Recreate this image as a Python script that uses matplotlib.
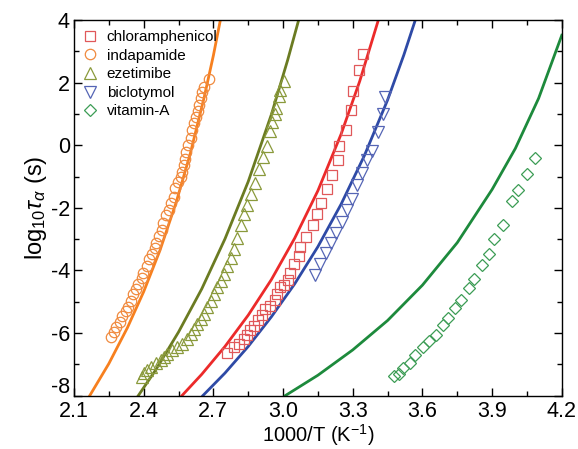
import matplotlib
matplotlib.use('Agg')
import matplotlib.pyplot as plt
from matplotlib.ticker import MultipleLocator

plt.rcParams['font.family'] = ['Liberation Sans', 'DejaVu Sans']
plt.rcParams['mathtext.fontset'] = 'custom'
plt.rcParams['mathtext.rm'] = 'Liberation Sans'
plt.rcParams['mathtext.it'] = 'Liberation Sans:italic'
plt.rcParams['axes.unicode_minus'] = False

# --- measured points -------------------------------------------------------
chl_x = [2.759, 2.788, 2.809, 2.831, 2.845, 2.856, 2.874, 2.893, 2.910, 2.924, 2.945,
         2.967, 2.974, 2.988, 3.003, 3.020, 3.032, 3.049, 3.068, 3.075, 3.097, 3.128,
         3.144, 3.163, 3.189, 3.211, 3.235, 3.241, 3.271, 3.293, 3.303, 3.327, 3.344]
chl_y = [-6.65, -6.44, -6.36, -6.18, -6.07, -5.91, -5.76, -5.60, -5.44, -5.23, -5.15,
         -4.95, -4.76, -4.54, -4.45, -4.29, -4.07, -3.78, -3.54, -3.24, -2.92, -2.56,
         -2.21, -1.83, -1.40, -0.94, -0.48, -0.03, 0.50, 1.13, 1.74, 2.40, 2.93]

ind_x = [2.261, 2.272, 2.282, 2.297, 2.308, 2.322, 2.332, 2.344, 2.354, 2.368, 2.377,
         2.391, 2.398, 2.413, 2.425, 2.437, 2.447, 2.454, 2.465, 2.477, 2.484, 2.497,
         2.508, 2.519, 2.530, 2.537, 2.547, 2.559, 2.566, 2.573, 2.578, 2.584, 2.592,
         2.603, 2.610, 2.618, 2.625, 2.633, 2.640, 2.648, 2.653, 2.660, 2.683]
ind_y = [-6.13, -5.97, -5.81, -5.65, -5.47, -5.30, -5.16, -4.97, -4.76, -4.60, -4.44,
         -4.23, -4.07, -3.86, -3.65, -3.47, -3.28, -3.12, -2.91, -2.70, -2.49, -2.22,
         -2.07, -1.85, -1.64, -1.38, -1.17, -1.01, -0.85, -0.64, -0.43, -0.22, 0.02,
         0.25, 0.50, 0.72, 0.92, 1.10, 1.28, 1.50, 1.70, 1.88, 2.13]

eze_x = [2.394, 2.401, 2.416, 2.430, 2.451, 2.473, 2.487, 2.501, 2.523, 2.544, 2.566,
         2.587, 2.602, 2.616, 2.630, 2.645, 2.659, 2.673, 2.688, 2.702, 2.716, 2.731,
         2.745, 2.759, 2.774, 2.788, 2.802, 2.817, 2.831, 2.845, 2.864, 2.878, 2.895,
         2.912, 2.931, 2.945, 2.953, 2.964, 2.970, 2.981, 2.988, 3.003]
eze_y = [-7.42, -7.29, -7.18, -7.08, -6.97, -6.86, -6.76, -6.66, -6.55, -6.44, -6.34,
         -6.18, -6.02, -5.86, -5.71, -5.55, -5.39, -5.18, -4.97, -4.76, -4.54, -4.33,
         -4.12, -3.86, -3.59, -3.33, -2.95, -2.55, -2.20, -1.91, -1.57, -1.19, -0.75,
         -0.38, -0.01, 0.47, 0.73, 0.99, 1.20, 1.57, 1.78, 2.05]

bic_x = [3.136, 3.160, 3.187, 3.206, 3.229, 3.253, 3.276, 3.296, 3.319, 3.340, 3.363,
         3.383, 3.409, 3.431, 3.441]
bic_y = [-4.13, -3.79, -3.43, -3.13, -2.79, -2.44, -2.07, -1.72, -1.26, -0.90, -0.46,
         -0.17, 0.42, 1.01, 1.54]

vit_x = [3.478, 3.497, 3.518, 3.547, 3.566, 3.601, 3.630, 3.659, 3.688, 3.711, 3.740,
         3.768, 3.801, 3.823, 3.857, 3.886, 3.910, 3.947, 3.987, 4.012, 4.048, 4.085]
vit_y = [-7.39, -7.30, -7.12, -6.96, -6.70, -6.46, -6.27, -6.05, -5.73, -5.52, -5.20,
         -4.93, -4.56, -4.27, -3.84, -3.47, -2.98, -2.56, -1.78, -1.42, -0.92, -0.42]

# --- fitted curves ----------------------------------------------------------
chl_fx = [2.565, 2.65, 2.75, 2.85, 2.95, 3.05, 3.15, 3.25, 3.33, 3.41]
chl_fy = [-8.00, -7.32, -6.43, -5.43, -4.29, -2.97, -1.45, 0.36, 2.05, 4.00]
ind_fx = [2.168, 2.25, 2.33, 2.40, 2.47, 2.54, 2.60, 2.66, 2.70, 2.73]
ind_fy = [-8.00, -6.98, -5.83, -4.68, -3.36, -1.82, -0.28, 1.52, 2.87, 4.00]
eze_fx = [2.377, 2.45, 2.55, 2.65, 2.75, 2.85, 2.95, 3.02, 3.067]
eze_fy = [-8.00, -7.20, -5.97, -4.59, -2.99, -1.16, 0.99, 2.73, 4.00]
bic_fx = [2.655, 2.75, 2.85, 2.95, 3.05, 3.15, 3.25, 3.35, 3.45, 3.52, 3.57]
bic_fy = [-8.00, -7.28, -6.43, -5.48, -4.43, -3.24, -1.88, -0.33, 1.45, 2.89, 4.02]
vit_fx = [3.01, 3.15, 3.30, 3.45, 3.60, 3.75, 3.90, 4.00, 4.10, 4.20]
vit_fy = [-8.00, -7.35, -6.54, -5.60, -4.47, -3.11, -1.41, -0.10, 1.50, 3.52]

y_ticks = [-8, -6, -4, -2, 0, 2, 4]

fig = plt.figure(figsize=(5.78, 4.49), dpi=100)
ax = fig.add_axes([0.128, 0.119, 0.844, 0.836])

ax.plot(chl_fx, chl_fy, color='#ec2a2a', lw=2.0)
ax.plot(ind_fx, ind_fy, color='#f7801f', lw=2.0)
ax.plot(eze_fx, eze_fy, color='#6b7b22', lw=2.0)
ax.plot(bic_fx, bic_fy, color='#2e4aa6', lw=2.0)
ax.plot(vit_fx, vit_fy, color='#1d8a3c', lw=2.0)

mk = dict(ls='none', mfc='none', mew=0.9)
ax.plot(chl_x, chl_y, marker='s', ms=7, mec='#e0585a', label='chloramphenicol', **mk)
ax.plot(ind_x, ind_y, marker='o', ms=7.5, mec='#f08a3e', label='indapamide', **mk)
ax.plot(eze_x, eze_y, marker='^', ms=8, mec='#8a9a3c', label='ezetimibe', **mk)
ax.plot(bic_x, bic_y, marker='v', ms=8, mec='#5565b5', label='biclotymol', **mk)
ax.plot(vit_x, vit_y, marker='D', ms=6, mec='#3c9c55', label='vitamin-A', **mk)

ax.set_xlim(2.1, 4.2)
ax.set_ylim(-8, 4)
ax.xaxis.set_major_locator(MultipleLocator(0.3))
ax.xaxis.set_minor_locator(MultipleLocator(0.15))
ax.yaxis.set_minor_locator(MultipleLocator(1))
ax.set_xticklabels([f'{v:.1f}' for v in ax.get_xticks()])
# bottom label is drawn separately, a bit higher, so it clears "2.1"
ax.set_yticks(y_ticks, [''] + [str(v) for v in y_ticks[1:]])
ax.annotate(str(y_ticks[0]), xy=(0, y_ticks[0]), xycoords=('axes fraction', 'data'),
            xytext=(-3, 6), textcoords='offset points', ha='right', va='center',
            fontsize=15.5)
ax.tick_params(which='both', direction='in', top=True, right=True, width=1.0)
ax.tick_params(which='major', length=6, labelsize=15.5)
ax.tick_params(axis='x', which='major', pad=4)
ax.tick_params(axis='y', which='major', pad=3)
ax.tick_params(which='minor', length=3.5)
for s in ax.spines.values():
    s.set_linewidth(1.0)

ax.set_xlabel('1000/T (K$^{-1}$)', fontsize=14.5, labelpad=0)
ax.set_ylabel(r'log$_{10}\tau_{\alpha}$ (s)', fontsize=17, labelpad=1)

ax.legend(loc='upper left', frameon=False, fontsize=11, handletextpad=0.7,
          borderaxespad=0.15, borderpad=0.5, labelspacing=0.3, handlelength=0.8)

fig.savefig('out.png', dpi=100)
